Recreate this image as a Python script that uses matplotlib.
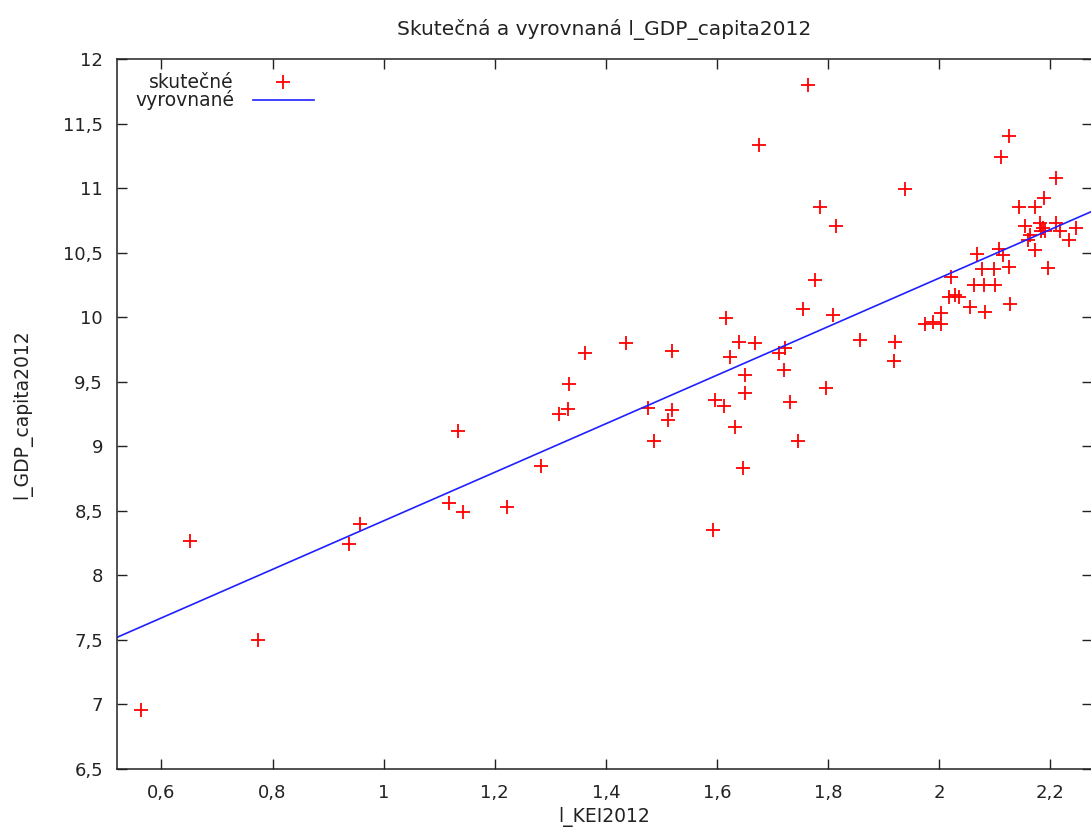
import matplotlib
matplotlib.use("Agg")
import matplotlib.pyplot as plt
from matplotlib.ticker import FuncFormatter

# observed values (l_KEI2012, l_GDP_capita2012)
kei = [0.564, 0.651, 0.773, 0.938, 0.958, 1.117, 1.133, 1.142, 1.222, 1.283,
       1.315, 1.331, 1.334, 1.362, 1.436, 1.475, 1.487, 1.512, 1.519, 1.519,
       1.593, 1.597, 1.612, 1.617, 1.624, 1.633, 1.640, 1.647, 1.650, 1.650,
       1.669, 1.675, 1.711, 1.720, 1.723, 1.732, 1.746, 1.755, 1.764, 1.777,
       1.786, 1.797, 1.809, 1.815, 1.857, 1.918, 1.920, 1.939, 1.975, 1.989,
       2.003, 2.004, 2.017, 2.022, 2.028, 2.035, 2.055, 2.062, 2.068, 2.077,
       2.080, 2.083, 2.098, 2.101, 2.107, 2.111, 2.115, 2.125, 2.126, 2.127,
       2.144, 2.154, 2.159, 2.164, 2.172, 2.173, 2.182, 2.184, 2.186, 2.188,
       2.191, 2.195, 2.211, 2.211, 2.218, 2.233, 2.246]
gdp = [6.96, 8.27, 7.50, 8.24, 8.40, 8.56, 9.12, 8.49, 8.53, 8.85,
       9.25, 9.29, 9.48, 9.72, 9.80, 9.30, 9.04, 9.20, 9.28, 9.74,
       8.35, 9.36, 9.31, 9.99, 9.69, 9.15, 9.81, 8.83, 9.41, 9.55,
       9.80, 11.33, 9.72, 9.59, 9.76, 9.34, 9.04, 10.06, 11.80, 10.29,
       10.85, 9.45, 10.02, 10.71, 9.82, 9.66, 9.81, 10.99, 9.95, 9.96,
       10.03, 9.95, 10.16, 10.31, 10.17, 10.16, 10.08, 10.25, 10.49, 10.37,
       10.25, 10.04, 10.37, 10.25, 10.53, 11.24, 10.48, 11.40, 10.39, 10.10,
       10.85, 10.71, 10.60, 10.64, 10.52, 10.85, 10.73, 10.67, 10.69, 10.92,
       10.67, 10.38, 10.73, 11.08, 10.67, 10.60, 10.69]

# fitted line end points
fit_x = [0.52, 2.275]
fit_y = [7.52, 10.82]

x_ticks = [0.6, 0.8, 1.0, 1.2, 1.4, 1.6, 1.8, 2.0, 2.2]
y_ticks = [6.5, 7, 7.5, 8, 8.5, 9, 9.5, 10, 10.5, 11, 11.5, 12]

plt.rcParams['font.family'] = ['DejaVu Sans']
txt_color = '#222222'

fig = plt.figure(figsize=(10.91, 8.34), dpi=100)
ax = fig.add_axes([117 / 1091, 65 / 834, 975 / 1091, 710 / 834])

ax.plot(kei, gdp, linestyle='none', marker='+', color='#ff0000',
        markersize=10, markeredgewidth=1.3, label='skutečné')
ax.plot(fit_x, fit_y, color='#2020ff', linewidth=1.2, label='vyrovnané')

ax.set_xlim(0.52, 2.275)
ax.set_ylim(6.5, 12)

comma = FuncFormatter(lambda v, p: ('%g' % v).replace('.', ','))
ax.set_xticks(x_ticks)
ax.set_yticks(y_ticks)
ax.xaxis.set_major_formatter(comma)
ax.yaxis.set_major_formatter(comma)
ax.tick_params(axis='both', direction='in', length=7, width=1,
               top=True, right=True, labelsize=13, labelcolor=txt_color,
               color=txt_color)
ax.tick_params(axis='x', pad=10.5)
ax.tick_params(axis='y', pad=10)
for s in ax.spines.values():
    s.set_linewidth(1.1)
    s.set_color(txt_color)

ax.set_title('Skutečná a vyrovnaná l_GDP_capita2012', fontsize=14.5,
             color=txt_color, pad=17.5)
ax.set_xlabel('l_KEI2012', fontsize=13.5, color=txt_color, labelpad=4)
ax.set_ylabel('l_GDP_capita2012', fontsize=13.5, color=txt_color, labelpad=22)

leg = ax.legend(loc='upper left', frameon=False, markerfirst=False,
                fontsize=13.5, handlelength=3.25, handletextpad=1.0,
                borderaxespad=0, borderpad=0, labelspacing=-0.1,
                bbox_to_anchor=(0.0185, 0.98))
for t in leg.get_texts():
    t.set_color(txt_color)

fig.savefig('out.png', dpi=100)
